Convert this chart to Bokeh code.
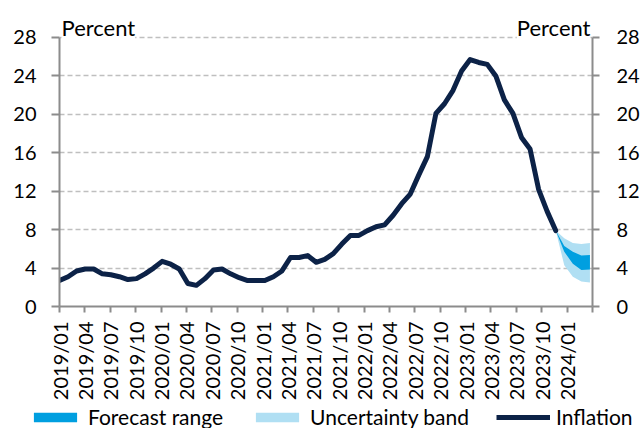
import math
from bokeh.plotting import figure
from bokeh.layouts import column
from bokeh.models import (Range1d, LinearAxis, FixedTicker, Label, Legend,
                          LegendItem, ColumnDataSource)
from bokeh.embed import file_html
from bokeh.resources import INLINE

# ---------------- data ----------------
tick_labels = ["2019/01", "2019/04", "2019/07", "2019/10", "2020/01", "2020/04",
               "2020/07", "2020/10", "2021/01", "2021/04", "2021/07", "2021/10",
               "2022/01", "2022/04", "2022/07", "2022/10", "2023/01", "2023/04",
               "2023/07", "2023/10", "2024/01"]

# monthly inflation, 2019/01 .. 2023/11 (percent)
inflation = [2.7, 3.1, 3.7, 3.9, 3.9, 3.4, 3.3, 3.1, 2.8, 2.9, 3.4, 4.0,
             4.7, 4.4, 3.9, 2.4, 2.2, 2.9, 3.8, 3.9, 3.4, 3.0, 2.7, 2.7,
             2.7, 3.1, 3.7, 5.1, 5.1, 5.3, 4.6, 4.9, 5.5, 6.5, 7.4, 7.4,
             7.9, 8.3, 8.5, 9.5, 10.7, 11.7, 13.7, 15.6, 20.1, 21.1, 22.5, 24.5,
             25.7, 25.4, 25.2, 24.0, 21.5, 20.1, 17.6, 16.4, 12.2, 9.9, 7.9]

# forecast, 2023/11 .. 2024/03
forecast_months = ["2023/11", "2023/12", "2024/01", "2024/02", "2024/03"]
forecast_low = [7.9, 5.7, 4.45, 3.8, 3.85]
forecast_high = [7.9, 6.3, 5.7, 5.3, 5.35]
band_low = [7.9, 4.3, 3.1, 2.6, 2.5]
band_high = [7.9, 7.1, 6.6, 6.5, 6.6]

# ---------------- build ----------------
start_year, start_month = 2019, 1
def month_index(lbl):
    y, m = lbl.split("/")
    return (int(y) - start_year) * 12 + int(m) - start_month

x_inf = list(range(len(inflation)))
x_fc = [month_index(m) for m in forecast_months]

src_inf = ColumnDataSource(dict(x=x_inf, y=inflation))
src_fc = ColumnDataSource(dict(x=x_fc, lo=forecast_low, hi=forecast_high,
                               blo=band_low, bhi=band_high))

FONT = "Lato"
AXIS_COLOR = "#8C8C8C"
C_BAND = "#B0DFF3"
C_FC = "#009FE0"
C_LINE = "#0C2247"
XMAX = 62.3
YTOP = 30.6   # room above the 28 line for the "Percent" captions

p = figure(frame_width=533, frame_height=294, output_backend="svg", toolbar_location=None,
           x_range=Range1d(0, XMAX), y_range=Range1d(0, YTOP),
           min_border_left=59, min_border_right=49, min_border_top=12,
           min_border_bottom=96)
p.frame_align = False
p.outline_line_color = None
p.background_fill_color = "white"
p.border_fill_color = "white"

p.extra_x_ranges = {"cal": Range1d(0, 63)}

# x axis (calendar ticks every 3 months)
xax = p.xaxis[0]
xax.x_range_name = "cal"
xticks = list(range(0, 64, 3))
overrides = {t: (tick_labels[i] if i < len(tick_labels) else "") for i, t in enumerate(xticks)}
xax.ticker = FixedTicker(ticks=xticks)
xax.major_label_overrides = overrides
xax.major_label_orientation = math.pi / 2
xax.minor_tick_line_color = None
xax.major_tick_out = 6
xax.major_tick_in = 0
xax.major_label_standoff = 9

yticks = list(range(0, 29, 4))
yax = p.yaxis[0]
yax.ticker = FixedTicker(ticks=yticks)
yax.bounds = (0, 28)
yax.minor_tick_line_color = None
yax.major_tick_out = 8
yax.major_tick_in = 0
yax.major_label_standoff = 15

rax = LinearAxis(ticker=FixedTicker(ticks=yticks), bounds=(0, 28))
rax.minor_tick_line_color = None
rax.major_tick_out = 7
rax.major_tick_in = 0
rax.major_label_standoff = 17
p.add_layout(rax, "right")

for ax in (xax, yax, rax):
    ax.axis_line_color = AXIS_COLOR
    ax.axis_line_width = 2
    ax.major_tick_line_color = AXIS_COLOR
    ax.major_tick_line_width = 2
    ax.major_label_text_font = FONT
    ax.major_label_text_font_size = "20px"
    ax.major_label_text_color = "black"

p.xgrid.visible = False
p.ygrid.ticker = FixedTicker(ticks=[4, 8, 12, 16, 20, 24, 28])
p.ygrid.grid_line_color = "#BFBFBF"
p.ygrid.grid_line_dash = "5 3"
p.ygrid.grid_line_width = 1.5

# glyphs
p.varea(x="x", y1="blo", y2="bhi", source=src_fc, fill_color=C_BAND)
p.varea(x="x", y1="lo", y2="hi", source=src_fc, fill_color=C_FC)
p.line(x="x", y="y", source=src_inf, line_color=C_LINE, line_width=5,
       line_join="round", line_cap="round")

# "Percent" captions
for xpos, align, xoff in ((0, "left", 2), (XMAX, "right", -2)):
    p.add_layout(Label(x=xpos, y=28, text="Percent", text_align=align,
                       text_baseline="alphabetic", x_offset=xoff, y_offset=10,
                       text_font=FONT, text_font_size="22px", text_color="black",
                       background_fill_color="white"))

# ---------------- legend strip ----------------
# same data sources, but this strip's ranges keep the glyphs out of view;
# only the legend is visible here.
q = figure(width=641, height=26, output_backend="svg", toolbar_location=None,
           x_range=Range1d(-10, -9), y_range=Range1d(-10, -9),
           x_axis_location=None, y_axis_location=None,
           min_border_left=0, min_border_right=0, min_border_top=0, min_border_bottom=0)
q.frame_align = False
q.outline_line_color = None
q.grid.visible = False
q.border_fill_color = "white"
g_fc = q.varea(x="x", y1="lo", y2="hi", source=src_fc, fill_color=C_FC)
g_band = q.varea(x="x", y1="blo", y2="bhi", source=src_fc, fill_color=C_BAND)
g_line = q.line(x="x", y="y", source=src_inf, line_color=C_LINE, line_width=5)

legend = Legend(items=[LegendItem(label="Forecast range", renderers=[g_fc]),
                       LegendItem(label="Uncertainty band", renderers=[g_band]),
                       LegendItem(label="Inflation", renderers=[g_line])],
                orientation="horizontal", location=(28, 0),
                glyph_width=54, glyph_height=12, label_standoff=6, spacing=27,
                padding=0, margin=0, border_line_color=None,
                background_fill_alpha=0,
                label_text_font=FONT, label_text_font_size="21px",
                label_text_color="black")
q.add_layout(legend, "center")

layout = column(p, q, spacing=0)
open("out.html", "w").write(file_html(layout, INLINE))
